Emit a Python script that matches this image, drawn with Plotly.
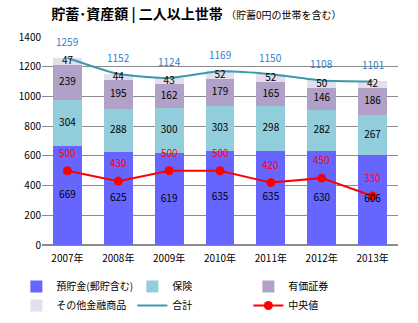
import plotly.graph_objects as go
import numpy as np

years = ["2007年", "2008年", "2009年", "2010年", "2011年", "2012年", "2013年"]
deposits = [669, 625, 619, 635, 635, 630, 606]
insurance = [304, 288, 300, 303, 298, 282, 267]
securities = [239, 195, 162, 179, 165, 146, 186]
other = [47, 44, 43, 52, 52, 50, 42]
totals = [1259, 1152, 1124, 1169, 1150, 1108, 1101]
median = [500, 430, 500, 500, 420, 450, 330]

FONT = "Noto Sans CJK JP"
fig = go.Figure()

series = [
    ("預貯金(郵貯含む)", deposits, "#6666ff"),
    ("保険", insurance, "#92cddc"),
    ("有価証券", securities, "#b1a0c7"),
    ("その他金融商品", other, "#e4dfec"),
]
for name, vals, col in series:
    fig.add_trace(go.Bar(x=years, y=vals, name=name, marker=dict(color=col, line=dict(width=0)),
                         width=0.57))

fig.add_trace(go.Scatter(x=years, y=totals, name="合計", mode="lines",
                         line=dict(color="#3f97ab", width=2, shape="spline", smoothing=0.6)))
fig.add_trace(go.Scatter(x=years, y=median, name="中央値", mode="lines+markers",
                         line=dict(color="#ff0000", width=2),
                         marker=dict(color="#ff0000", size=9)))

# segment labels
base = np.zeros(len(years))
for name, vals, col in series:
    v = np.array(vals)
    mids = base + v / 2
    fig.add_trace(go.Scatter(x=years, y=mids, mode="text", text=[str(a) for a in vals],
                             textfont=dict(family=FONT, size=10, color="#000000"),
                             showlegend=False, hoverinfo="skip"))
    base = base + v

for yr, t in zip(years, totals):
    fig.add_annotation(x=yr, y=t, text=str(t), showarrow=False, yshift=7, yanchor="bottom",
                       font=dict(family=FONT, size=10, color="#2a7fd0"))
for yr, m in zip(years, median):
    fig.add_annotation(x=yr, y=m, text=str(m), showarrow=False, yshift=9, yanchor="bottom",
                       font=dict(family=FONT, size=10, color="#ff0000"))

fig.update_layout(
    width=418, height=323,
    margin=dict(l=42, r=20, t=37, b=78, autoexpand=False),
    barmode="stack",
    bargap=0.43,
    plot_bgcolor="white", paper_bgcolor="white",
    font=dict(family=FONT, size=10, color="#000000"),
    title=dict(text="<b>貯蓄･資産額 | 二人以上世帯</b> <span style='font-size:10px'>（貯蓄0円の世帯を含む）</span>",
               x=0.47, xanchor="center", y=0.955, yanchor="middle",
               font=dict(family=FONT, size=14, color="#000000")),
    xaxis=dict(showgrid=False, showline=False, ticks="", tickfont=dict(size=10),
               ticklabelstandoff=6),
    yaxis=dict(range=[0, 1400], dtick=200, showgrid=True, gridcolor="#8c8c8c", gridwidth=1,
               zeroline=True, zerolinecolor="#8c8c8c", showline=False, ticks="",
               tickfont=dict(size=10)),
    legend=dict(orientation="h", x=-0.072, y=-0.13, xanchor="left", yanchor="top",
                entrywidth=71, entrywidthmode="pixels", traceorder="normal",
                font=dict(family=FONT, size=10), itemwidth=30, tracegroupgap=0),
    showlegend=True,
)

fig.write_html("out.html")
